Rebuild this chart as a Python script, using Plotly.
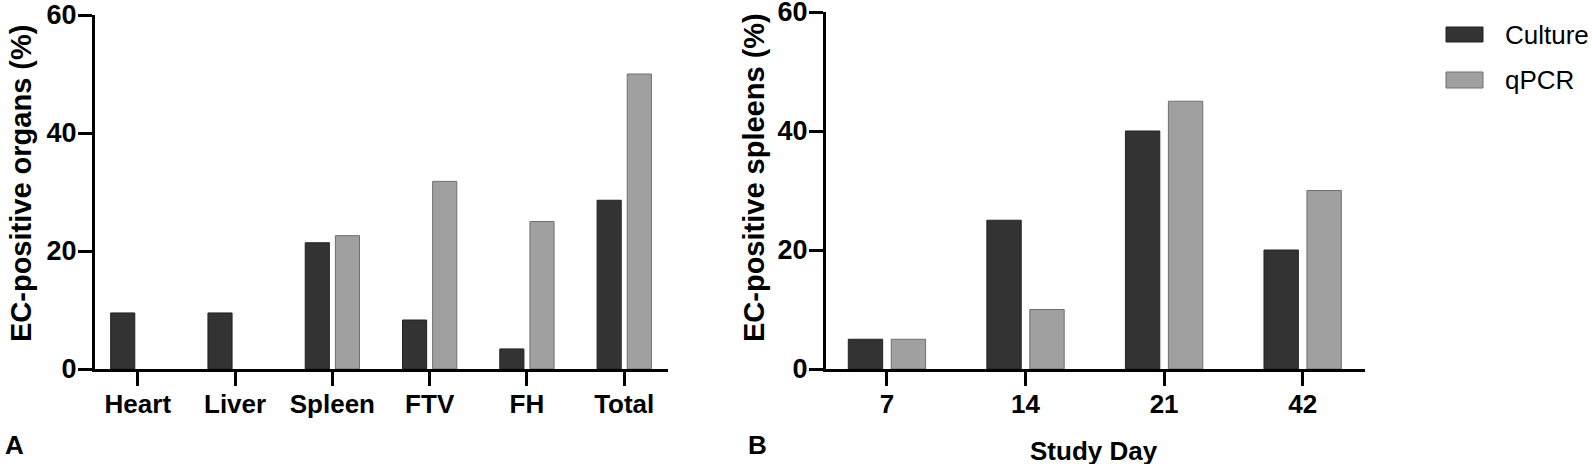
import plotly.graph_objects as go

W, H = 1592, 464

# Panel A - organs
organs = ["Heart", "Liver", "Spleen", "FTV", "FH", "Total"]
organs_culture = [9.5, 9.5, 21.4, 8.3, 3.4, 28.6]
organs_qpcr = [0, 0, 22.6, 31.8, 25.0, 50.0]

# Panel B - spleens by study day
study_days = ["7", "14", "21", "42"]
days_culture = [5, 25, 40, 20]
days_qpcr = [5, 10, 45, 30]

y_ticks = [0, 20, 40, 60]

DARK = "#333333"
LIGHT = "#a0a0a0"
FONT = "Liberation Sans, Arial, sans-serif"


def px_x(p):
    return p / W


def px_y(p):
    return 1 - p / H


def bar(x, y, color, edge, xa, ya):
    # no outline on empty bars so nothing shows at zero
    widths = [0 if v == 0 else 1 for v in y]
    return go.Bar(x=x, y=y, marker=dict(color=color, line=dict(color=edge, width=widths)),
                  xaxis=xa, yaxis=ya, showlegend=False)


fig = go.Figure()
fig.add_trace(bar(organs, organs_culture, DARK, "#222222", "x", "y"))
fig.add_trace(bar(organs, organs_qpcr, LIGHT, "#6e6e6e", "x", "y"))
fig.add_trace(bar(study_days, days_culture, DARK, "#222222", "x2", "y2"))
fig.add_trace(bar(study_days, days_qpcr, LIGHT, "#6e6e6e", "x2", "y2"))

axis_common = dict(
    showline=True, linecolor="black", linewidth=3,
    ticks="outside", ticklen=14, tickwidth=3, tickcolor="black",
    showgrid=False, zeroline=False, automargin=False, ticklabeloverflow="allow",
)
xtick_font = dict(family=FONT, size=26, color="black", weight="bold")
ytick_font = dict(family=FONT, size=27, color="black", weight="bold")

fig.update_layout(
    width=W, height=H,
    margin=dict(l=0, r=0, t=0, b=0, autoexpand=False),
    paper_bgcolor="white", plot_bgcolor="white",
    barmode="group", bargap=0.38, bargroupgap=0.2,
    font=dict(family=FONT, color="black"),
    xaxis=dict(domain=[px_x(95), px_x(668)], anchor="y", type="category",
               range=[-0.44, 5.45], ticklabelstandoff=-4, tickfont=xtick_font, **axis_common),
    yaxis=dict(domain=[px_y(369), px_y(15)], anchor="x", range=[0, 60],
               tickvals=y_ticks, ticklabelstandoff=-4, tickfont=ytick_font, **axis_common),
    xaxis2=dict(domain=[px_x(826), px_x(1365)], anchor="y2", type="category",
                range=[-0.44, 3.45], ticklabelstandoff=-4, tickfont=xtick_font, **axis_common),
    yaxis2=dict(domain=[px_y(369), px_y(12)], anchor="x2", range=[0, 60],
                tickvals=y_ticks, ticklabelstandoff=-4, tickfont=ytick_font, **axis_common),
)

bold = dict(family=FONT, size=29, color="black", weight="bold")
annotations = [
    dict(text="EC-positive organs (%)", x=px_x(21), y=px_y(184), textangle=-90, font=bold),
    dict(text="EC-positive spleens (%)", x=px_x(754), y=px_y(178), textangle=-90, font=bold),
    dict(text="Study Day", x=px_x(1094), y=px_y(451), font=dict(family=FONT, size=26, color="black", weight="bold")),
    dict(text="A", x=px_x(15), y=px_y(445), font=dict(family=FONT, size=26, color="black", weight="bold")),
    dict(text="B", x=px_x(757), y=px_y(445), font=dict(family=FONT, size=26, color="black", weight="bold")),
    dict(text="Culture", x=px_x(1503), y=px_y(35), xanchor="left", font=dict(family=FONT, size=26, color="black")),
    dict(text="qPCR", x=px_x(1503), y=px_y(80), xanchor="left", font=dict(family=FONT, size=26, color="black")),
]
for a in annotations:
    a.setdefault("xanchor", "center")
    fig.add_annotation(xref="paper", yref="paper", yanchor="middle", showarrow=False, **a)

# legend swatches
fig.add_shape(type="rect", xref="paper", yref="paper", x0=px_x(1446), x1=px_x(1483), y0=px_y(42), y1=px_y(27),
              fillcolor=DARK, line=dict(color="#222222", width=1))
fig.add_shape(type="rect", xref="paper", yref="paper", x0=px_x(1446), x1=px_x(1483), y0=px_y(88), y1=px_y(72),
              fillcolor=LIGHT, line=dict(color="#6e6e6e", width=1))

# drop the default 8px page margin so the figure sits at the window's corner
fig.write_html("out.html", config={"displayModeBar": False},
               post_script="document.body.style.margin = '0';")
